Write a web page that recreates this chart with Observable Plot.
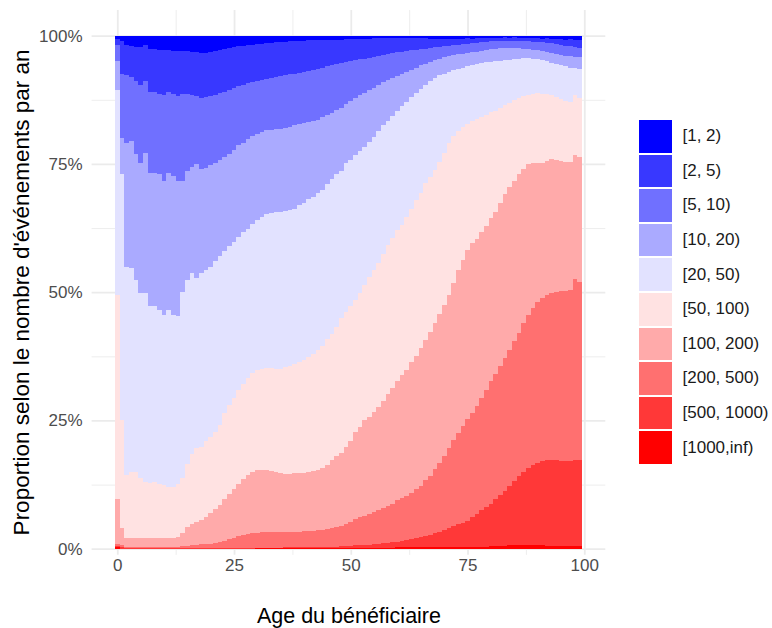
<!DOCTYPE html>
<html>
<head>
<meta charset="utf-8">
<script src="https://cdn.jsdelivr.net/npm/d3@7"></script>
<script src="https://cdn.jsdelivr.net/npm/@observablehq/plot@0.6"></script>
<style>
  body { margin: 0; background: #fff; font-family: "Liberation Sans", Arial, sans-serif; }
  #wrap { position: relative; width: 772px; height: 628px; overflow: hidden; }
  #legend { position: absolute; left: 639px; top: 119px; }
  .row { display: flex; align-items: center; height: 34.6px; }
  .key { width: 32.5px; height: 32.5px; margin-right: 11px; flex: none; }
  .lab { font-size: 17px; color: #1a1a1a; white-space: nowrap; }
</style>
</head>
<body>
<div id="wrap"><div id="chart"></div><div id="legend"></div></div>
<script>
// Ages (x categories)
const ages = [0,1,2,3,4,5,6,7,8,9,10,11,12,13,14,15,16,17,18,19,20,21,22,23,24,25,26,27,28,29,30,31,32,33,34,35,36,37,38,39,40,41,42,43,44,45,46,47,48,49,50,51,52,53,54,55,56,57,58,59,60,61,62,63,64,65,66,67,68,69,70,71,72,73,74,75,76,77,78,79,80,81,82,83,84,85,86,87,88,89,90,91,92,93,94,95,96,97,98,99];

// Legend categories (top to bottom) and their colours
const categories = ["[1, 2)", "[2, 5)", "[5, 10)", "[10, 20)", "[20, 50)", "[50, 100)", "[100, 200)", "[200, 500)", "[500, 1000)", "[1000,inf)"];
const colors = ["#0000ff", "#3838ff", "#7070ff", "#aaaaff", "#e2e2ff", "#ffe2e2", "#ffaaaa", "#ff7070", "#ff3838", "#ff0000"];

// Cumulative share (%) at the top of each band, per age
const top_1000_inf = [0.3,0,0,0,0,0,0,0,0,0, 0,0,0,0,0,0,0,0,0,0, 0,0,0,0,0,0,0,0,0,0, 0.1,0.1,0.1,0.1,0.1,0.1,0.1,0.1,0.1,0.1, 0.1,0.1,0.1,0.1,0.1,0.1,0.1,0.1,0.1,0.1, 0.2,0.2,0.2,0.2,0.2,0.2,0.2,0.2,0.2,0.2, 0.3,0.3,0.3,0.3,0.3,0.4,0.4,0.4,0.4,0.4, 0.4,0.4,0.4,0.4,0.4,0.4,0.4,0.4,0.4,0.4, 0.5,0.5,0.5,0.6,0.7,0.7,0.7,0.7,0.7,0.7, 0.7,0.7,0.6,0.6,0.6,0.6,0.6,0.6,0.6,0.6];
const top_500_1000 = [0.6,0.3,0.1,0.1,0.1,0.1,0.1,0.1,0.1,0.1, 0.1,0.1,0.1,0.1,0.1,0.1,0.1,0.1,0.1,0.1, 0.1,0.1,0.1,0.1,0.1,0.1,0.2,0.2,0.2,0.2, 0.2,0.2,0.2,0.2,0.2,0.2,0.3,0.3,0.3,0.3, 0.3,0.3,0.3,0.4,0.4,0.4,0.4,0.4,0.5,0.5, 0.6,0.7,0.7,0.8,0.8,0.9,1.0,1.1,1.2,1.3, 1.4,1.5,1.6,1.8,2.0,2.2,2.4,2.7,3.0,3.3, 3.6,4.0,4.4,4.8,5.1,5.4,6.1,6.8,7.5,8.1, 8.8,9.6,10.4,11.3,12.2,13.2,14.1,15.0,15.7,16.3, 16.8,17.1,17.2,17.2,17.2,17.1,17.0,17.0,17.3,17.3];
const top_200_500 = [1.0,0.8,0.3,0.3,0.3,0.3,0.3,0.3,0.3,0.3, 0.3,0.3,0.3,0.4,0.5,0.6,0.7,0.8,0.9,1.0, 1.0,1.1,1.3,1.5,1.8,2.1,2.4,2.6,2.8,3.0, 3.1,3.2,3.3,3.3,3.3,3.3,3.3,3.3,3.3,3.3, 3.4,3.4,3.5,3.6,3.7,3.8,4.0,4.2,4.5,4.8, 5.2,5.7,6.1,6.4,6.8,7.1,7.5,8.0,8.4,8.8, 9.4,9.8,10.3,10.9,11.6,12.3,13.3,14.2,15.5,16.8, 18.1,19.6,21.1,22.5,23.9,25.2,26.4,27.8,29.3,30.9, 32.6,34.0,35.6,37.1,38.7,40.4,42.1,43.9,45.5,47.0, 48.0,48.8,49.4,49.9,50.1,50.2,50.3,50.4,52.5,51.9];
const top_100_200 = [9.6,4.0,2.0,2.0,2.0,2.0,2.0,2.0,2.0,2.0, 2.0,2.0,2.0,2.3,3.0,4.3,4.9,5.3,5.6,6.2, 7.0,7.7,8.5,9.6,10.7,11.6,12.7,13.6,14.3,14.9, 15.3,15.4,15.3,15.2,14.9,14.7,14.5,14.5,14.7,14.7, 14.8,14.9,15.1,15.3,15.7,16.3,17.2,18.0,18.6,19.8, 21.0,22.8,23.8,25.0,25.7,26.7,27.7,28.8,30.1,31.4, 32.6,33.9,34.8,36.3,37.6,39.2,40.7,42.3,43.9,45.7, 47.5,49.4,51.7,54.3,56.3,58.2,59.5,60.3,61.8,62.9, 64.4,65.7,67.4,69.1,70.6,71.7,73.0,74.1,74.9,75.2, 75.2,75.2,75.6,75.9,75.8,75.6,75.4,75.3,76.7,76.3];
const top_50_100 = [49.5,25.0,14.4,15.0,15.0,13.7,13.1,12.9,13.1,12.7, 12.4,12.1,12.0,12.7,13.7,16.6,18.5,19.6,19.9,20.9, 21.8,22.8,24.1,26.5,28.0,29.4,31.0,32.2,33.3,34.3, 34.9,35.1,35.2,35.2,35.1,35.1,35.4,35.6,36.1,36.4, 36.8,37.3,37.9,38.7,39.5,40.8,41.8,43.3,44.9,46.2, 47.3,48.5,49.8,51.4,53.0,54.3,55.6,57.4,59.2,60.5, 62.1,63.1,64.7,66.3,68.0,69.4,71.2,72.5,73.8,75.4, 77.1,79.0,80.5,81.5,82.2,82.8,83.3,83.8,84.2,84.6, 85.1,85.4,85.9,86.4,86.9,87.4,87.8,88.2,88.5,88.7, 88.8,88.7,88.6,88.4,88.1,87.7,87.2,87.1,88.4,87.8];
const top_20_50 = [89.5,73.0,55.0,54.8,52.4,49.8,49.8,47.3,47.3,46.6, 45.5,46.5,45.5,45.3,50.1,52.4,53.7,52.8,53.8,54.3, 55.0,56.0,57.0,58.0,59.0,59.8,60.7,61.8,62.4,63.3, 64.1,64.7,65.2,65.5,65.6,65.7,65.8,66.0,66.3,67.0, 67.4,68.1,68.6,69.3,70.0,71.1,72.0,73.0,73.7,75.1, 75.8,76.7,77.6,78.4,79.3,80.3,81.5,82.5,83.4,84.4, 85.4,86.3,87.1,88.0,88.9,89.7,90.3,91.1,91.8,92.3, 92.6,93.0,93.3,93.6,93.8,94.0,94.2,94.4,94.6,94.8, 94.9,95.0,95.1,95.2,95.3,95.4,95.5,95.6,95.6,95.5, 95.4,95.2,95.0,94.7,94.4,94.2,94.0,93.8,93.7,93.6];
const top_10_20 = [95.0,80.0,79.0,79.5,77.0,75.1,77.2,73.3,73.3,73.0, 71.7,73.3,72.6,71.7,71.7,73.6,74.5,75.0,74.1,74.3, 74.8,75.1,75.8,76.4,77.0,77.8,78.6,79.0,79.9,80.4, 80.9,81.3,81.6,81.7,81.9,81.9,82.1,82.3,82.5,82.8, 83.0,83.2,83.4,83.6,84.1,84.5,85.0,85.5,86.0,86.7, 87.3,87.9,88.4,88.9,89.4,89.9,90.4,90.9,91.3,91.8, 92.2,92.6,93.0,93.4,93.8,94.2,94.5,94.9,95.2,95.5, 95.8,96.0,96.2,96.4,96.5,96.6,96.8,96.9,97.1,97.3, 97.4,97.5,97.6,97.6,97.6,97.6,97.6,97.5,97.5,97.3, 97.2,97.0,96.8,96.6,96.4,96.2,96.1,96.0,95.9,95.8];
const top_5_10 = [98.2,92.5,92.3,92.0,91.1,90.3,91.2,89.1,89.0,88.7, 88.4,89.1,88.7,88.2,88.6,88.7,88.5,88.2,87.8,88.0, 88.2,88.4,88.8,89.1,89.5,89.9,90.2,90.4,90.7,91.0, 91.2,91.4,91.6,91.8,91.9,92.1,92.3,92.5,92.6,92.8, 93.0,93.2,93.4,93.6,93.8,94.0,94.2,94.4,94.6,94.8, 95.0,95.2,95.4,95.5,95.7,95.9,96.1,96.3,96.5,96.6, 96.8,96.9,97.1,97.2,97.3,97.4,97.5,97.6,97.7,97.8, 97.9,98.0,98.1,98.2,98.3,98.4,98.5,98.6,98.7,98.8, 98.9,98.9,99.0,99.0,99.0,99.0,99.0,98.9,98.9,98.8, 98.8,98.7,98.6,98.5,98.3,98.2,98.0,97.9,97.7,97.6];
const top_2_5 = [99.3,99.0,98.2,98.0,97.8,97.8,98.2,97.5,97.4,97.3, 97.3,97.2,97.1,97.0,97.0,97.0,96.9,96.9,96.7,96.6, 96.8,97.0,97.2,97.4,97.6,97.8,97.9,98.0,98.1,98.2, 98.3,98.4,98.5,98.6,98.7,98.7,98.8,98.9,98.9,99.0, 99.0,99.1,99.1,99.1,99.2,99.2,99.2,99.2,99.2,99.3, 99.3,99.3,99.4,99.4,99.4,99.5,99.5,99.5,99.5,99.6, 99.6,99.6,99.6,99.6,99.5,99.5,99.5,99.4,99.4,99.3, 99.3,99.4,99.4,99.3,99.4,99.5,99.4,99.5,99.5,99.6, 99.5,99.6,99.6,99.7,99.6,99.7,99.6,99.6,99.5,99.6, 99.5,99.4,99.5,99.4,99.3,99.3,99.2,99.3,99.1,99.1];
const top_1_2 = ages.map(() => 100); // stack total

const xTicks = [0, 25, 50, 75, 100];
const xMinor = [12.5, 37.5, 62.5, 87.5];
const yTicks = [0, 25, 50, 75, 100];
const yMinor = [12.5, 37.5, 62.5, 87.5];
const xTitle = "Age du bénéficiaire";
const yTitle = "Proportion selon le nombre d'événements par an";

// build band rows (bottom to top)
const stackOrder = categories.slice().reverse();
const tops = [top_1000_inf, top_500_1000, top_200_500, top_100_200, top_50_100, top_20_50, top_10_20, top_5_10, top_2_5, top_1_2];
const rows = [];
ages.forEach((a, i) => {
  let lo = 0;
  stackOrder.forEach((c, k) => {
    const hi = tops[k][i];
    rows.push({age: a, cat: c, lo, hi});
    lo = hi;
  });
});

const font = '"Liberation Sans", Arial, sans-serif';
const chart = Plot.plot({
  width: 772,
  height: 628,
  marginLeft: 91.6,
  marginRight: 166.7,
  marginTop: 10.05,
  marginBottom: 73.14,
  style: {fontFamily: font, background: "white", overflow: "visible"},
  x: {domain: [-5.5, 104.5]},
  y: {domain: [-1.2, 105]},
  color: {domain: categories, range: colors},
  marks: [
    Plot.gridX(xMinor, {stroke: "#ebebeb", strokeOpacity: 1, strokeWidth: 0.9}),
    Plot.gridY(yMinor, {stroke: "#ebebeb", strokeOpacity: 1, strokeWidth: 0.9}),
    Plot.gridX(xTicks, {stroke: "#ebebeb", strokeOpacity: 1, strokeWidth: 1.8}),
    Plot.gridY(yTicks, {stroke: "#ebebeb", strokeOpacity: 1, strokeWidth: 1.8}),
    Plot.rect(rows, {x1: d => d.age - 0.5, x2: d => d.age + 0.5, y1: "lo", y2: "hi", fill: "cat", shapeRendering: "crispEdges"}),
    Plot.axisX(xTicks, {tickSize: 0, tickPadding: 4, fontSize: 17, color: "#4d4d4d", label: null}),
    Plot.axisY(yTicks, {tickSize: 0, tickPadding: 9.6, fontSize: 17, color: "#4d4d4d", label: null, tickFormat: d => d + "%"}),
    Plot.text([xTitle], {frameAnchor: "bottom", dy: 60.5, fontSize: 21.5, fill: "#000", lineAnchor: "middle"}),
    Plot.text([yTitle], {frameAnchor: "left", textAnchor: "middle", rotate: -90, dx: -70, dy: 9.5, fontSize: 22.5, fill: "#000", lineAnchor: "middle"})
  ]
});
document.getElementById("chart").appendChild(chart);

// legend (HTML, from the same categories / colours)
const legend = document.getElementById("legend");
categories.forEach((c, i) => {
  const row = document.createElement("div");
  row.className = "row";
  const key = document.createElement("div");
  key.className = "key";
  key.style.background = colors[i];
  const lab = document.createElement("span");
  lab.className = "lab";
  lab.textContent = c;
  row.appendChild(key);
  row.appendChild(lab);
  legend.appendChild(row);
});
</script>
</body>
</html>
